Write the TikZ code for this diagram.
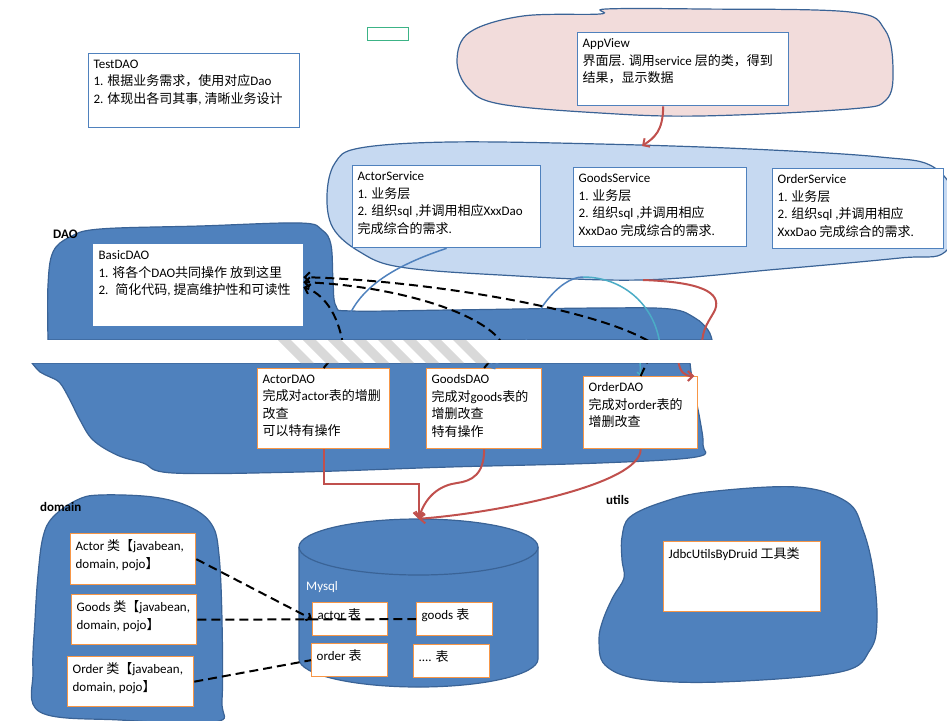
\documentclass[tikz,border=0pt]{standalone}
\usepackage{fontspec}
\setmainfont{Carlito}
\newfontfamily\zhfont{Noto Sans CJK SC}
\usetikzlibrary{arrows.meta}
\newcommand{\zh}[1]{{\zhfont #1}}
\newcommand{\cell}[3]{\parbox[c][#2][t]{#1}{#3}}
\definecolor{daoblue}{HTML}{4F81BD}
\definecolor{blobline}{HTML}{3A6396}
\definecolor{svcfill}{HTML}{C6D9F1}
\definecolor{viewfill}{HTML}{F2DCDB}
\definecolor{boxblue}{HTML}{4F81BD}
\definecolor{boxorange}{HTML}{F79646}
\definecolor{linkred}{HTML}{C0504D}
\definecolor{linkcyan}{HTML}{4BACC6}
\definecolor{markgreen}{HTML}{3CB386}
\definecolor{stripegray}{HTML}{D9D9D9}
\tikzset{
  cellbox/.style={draw, fill=white, line width=1.3pt, inner xsep=5pt, inner ysep=6pt,
    anchor=north west, font=\fontsize{13}{17.5}\selectfont},
  bluecell/.style={cellbox, draw=boxblue},
  orangecell/.style={cellbox, draw=boxorange},
  blob/.style={fill=daoblue, draw=blobline, line width=1.2pt},
  blobtag/.style={anchor=west, inner sep=0pt, font=\fontsize{13}{15}\selectfont\bfseries},
  redlink/.style={draw=linkred, line width=2pt, -{Straight Barb[length=5pt,width=10pt]}},
  bluelink/.style={draw=boxblue, line width=1.5pt, -{Straight Barb[length=3pt,width=7pt]}},
  cyanlink/.style={draw=linkcyan, line width=1.5pt, -{Straight Barb[length=3pt,width=7pt]}},
  daolink/.style={line width=2pt, dash pattern=on 9pt off 5pt, -{Straight Barb[length=5pt,width=10pt]}},
  beanlink/.style={line width=2pt, dash pattern=on 9pt off 5pt},
}
\begin{document}
\begin{tikzpicture}[x=1pt, y=1pt]
  \useasboundingbox (0,0) rectangle (947,-720);
  \clip (0,0) rectangle (947,-720);

  \node[draw=markgreen, line width=1.3pt, minimum width=41pt, minimum height=13pt,
    inner sep=0pt, anchor=north west] (mark) at (367,-27) {};

  \draw[fill=viewfill, draw=blobline, line width=1.2pt] plot[smooth cycle, tension=0.6] coordinates
    {(457,-60) (470,-32) (523,-16) (600,-14) (606,-9) (700,-9) (850,-12) (885,-30) (893,-70)
     (886,-100) (850,-109) (700,-116) (600,-113) (500,-104) (468,-88)};
  \node[bluecell] (appview) at (577,-32) {\cell{201pt}{61pt}{AppView\\\zh{界面层}. \zh{调用}service \zh{层的类，得到}\\\zh{结果，显示数据}}};

  \draw[fill=svcfill, draw=blobline, line width=1.2pt] plot[smooth cycle, tension=0.6] coordinates
    {(327,-195) (335,-163) (360,-148) (450,-142) (600,-144) (750,-149) (880,-157) (935,-168)
     (960,-210) (945,-252) (900,-258) (780,-269) (640,-280) (500,-275) (400,-267) (360,-252) (333,-228)};
  \node[bluecell] (actorsvc) at (352,-165) {\cell{178pt}{70pt}{ActorService\\1. \zh{业务层}\\2. \zh{组织}sql ,\zh{并调用相应}XxxDao\\\zh{完成综合的需求}.}};
  \node[bluecell] (goodssvc) at (573,-167) {\cell{163pt}{67pt}{GoodsService\\1. \zh{业务层}\\2. \zh{组织}sql ,\zh{并调用相应}\\XxxDao \zh{完成综合的需求}.}};
  \node[bluecell] (ordersvc) at (772,-168) {\cell{161pt}{68pt}{OrderService\\1. \zh{业务层}\\2. \zh{组织}sql ,\zh{并调用相应}\\XxxDao \zh{完成综合的需求}.}};

  \node[bluecell] (testdao) at (88,-53) {\cell{201pt}{62pt}{TestDAO\\1. \zh{根据业务需求，使用对应}Dao\\2. \zh{体现出各司其事}, \zh{清晰业务设计}}};

  \draw[blob] plot[smooth, tension=0.6] coordinates
    {(48,-340) (48,-285) (53,-252) (70,-237) (100,-229) (200,-226) (300,-223) (322,-230) (331,-245)
     (333,-280) (336,-306) (352,-311) (450,-310) (600,-308) (670,-309) (695,-318) (708,-330) (712,-340)} -- cycle;
  \draw[blob] plot[smooth, tension=0.6] coordinates
    {(690,-363) (693,-385) (700,-420) (703,-445) (696,-457) (600,-463) (450,-467) (300,-472) (173,-473)
     (143,-463) (117,-455) (93,-440) (80,-420) (70,-400) (60,-383) (50,-377) (40,-372) (32,-363)} -- cycle;
  \node[blobtag] (daotag) at (53,-234) {DAO};
  \node[cellbox, draw=white] (basicdao) at (93,-244) {\cell{199pt}{69pt}{BasicDAO\\1. \zh{将各个}DAO\zh{共同操作} \zh{放到这里}\\2. \ \zh{简化代码}, \zh{提高维护性和可读性}}};
  \node[orangecell] (actordao) at (257,-368) {\cell{122pt}{68pt}{ActorDAO\\\zh{完成对}actor\zh{表的增删}\\\zh{改查}\\\zh{可以特有操作}}};
  \node[orangecell] (goodsdao) at (426,-368) {\cell{105pt}{68pt}{GoodsDAO\\\zh{完成对}goods\zh{表的}\\\zh{增删改查}\\\zh{特有操作}}};
  \node[orangecell] (orderdao) at (583,-376) {\cell{104pt}{60pt}{OrderDAO\\\zh{完成对}order\zh{表的}\\\zh{增删改查}}};

  \draw[blob] plot[smooth cycle, tension=0.6] coordinates
    {(100,-495) (153,-497) (190,-507) (212,-525) (219,-555) (222,-620) (222,-700) (215,-722)
     (120,-720) (40,-712) (33,-670) (35,-620) (38,-575) (43,-537) (53,-517) (77,-500)};
  \node[blobtag] (domaintag) at (40,-507) {domain};
  \node[orangecell] (actorcls) at (70,-533) {\cell{115pt}{39pt}{Actor \zh{类【}javabean,\\domain, pojo\zh{】}}};
  \node[orangecell] (goodscls) at (71,-594) {\cell{115pt}{38pt}{Goods \zh{类【}javabean,\\domain, pojo\zh{】}}};
  \node[orangecell] (ordercls) at (67,-656) {\cell{116pt}{38pt}{Order \zh{类【}javabean,\\domain, pojo\zh{】}}};

  \node[minimum width=239pt, minimum height=168pt, inner sep=0pt] (mysql) at (418.5,-603) {};
  \fill[daoblue] (299,-547) -- (299,-659) arc[start angle=180, end angle=360, x radius=119.5, y radius=28]
    -- (538,-547) arc[start angle=0, end angle=180, x radius=119.5, y radius=28] -- cycle;
  \draw[blobline, line width=1.2pt] (299,-547) -- (299,-659)
    arc[start angle=180, end angle=360, x radius=119.5, y radius=28] -- (538,-547);
  \draw[blobline, line width=1.2pt] (418.5,-547) ellipse[x radius=119.5, y radius=28];
  \node[anchor=west, inner sep=0pt, text=white, font=\fontsize{13}{15}\selectfont] (dbname) at (306,-587) {Mysql};
  \node[orangecell] (actortab) at (312,-602) {\cell{65pt}{21pt}{actor \zh{表}}};
  \node[orangecell] (goodstab) at (416,-602) {\cell{66pt}{21pt}{goods \zh{表}}};
  \node[orangecell] (ordertab) at (311,-643) {\cell{66pt}{21pt}{order \zh{表}}};
  \node[orangecell] (moretab) at (413,-644) {\cell{66pt}{21pt}{.... \zh{表}}};

  \draw[blob] plot[smooth cycle, tension=0.6] coordinates
    {(630,-517) (663,-502) (707,-492) (797,-487) (847,-502) (863,-530) (873,-570) (877,-620) (870,-650)
     (840,-672) (720,-682) (640,-679) (605,-665) (599,-640) (603,-620) (613,-597) (624,-578) (622,-560) (622,-537)};
  \node[blobtag] (utilstag) at (606,-500) {utils};
  \node[orangecell] (druid) at (663,-541) {\cell{147pt}{58pt}{JdbcUtilsByDruid \zh{工具类}}};

  \coordinate (svcin) at (642,-146);
  \coordinate (arctop) at (583,-277);
  \coordinate (redtop) at (643,-280);

  \draw[redlink] ([xshift=-20pt]appview.south) .. controls +(0,-25) and +(12,8) .. (svcin);

  \draw[bluelink] (actorsvc.south) .. controls +(-60,-20) and +(3,50) .. (342,-345) -- (actordao.north);
  \draw[bluelink] (arctop) .. controls +(-25,0) and +(5,27) .. (525,-345) -- ([xshift=6pt]goodsdao.north);
  \draw[cyanlink] (arctop) .. controls +(40,0) and +(-5,40) .. (660,-345) -- (640,-360) -- (orderdao.north);
  \draw[redlink] (redtop) .. controls (700,-282) and (722,-292) .. (715,-310)
    .. controls (710,-320) and (702,-328) .. (702,-345) -- (678,-360)
    .. controls (680,-372) and (684,-376) .. ([xshift=-4pt]orderdao.north east);

  \draw[daolink] (actordao.north) -- (343,-345) .. controls (338,-312) and (322,-293) .. ([yshift=-2pt]basicdao.east);
  \draw[daolink] (goodsdao.north) -- (503,-345) .. controls (488,-315) and (400,-286) .. ([yshift=3pt]basicdao.east);
  \draw[daolink] (orderdao.north) -- (655,-345) .. controls (600,-308) and (420,-280) .. ([yshift=8pt]basicdao.east);

  \draw[redlink] (actordao.south) -- ++(0,-35) -| (mysql.north);
  \draw[redlink] (goodsdao.south) .. controls +(0,-25) and +(15,2) .. (457,-483)
    .. controls +(-15,-2) and +(8,25) .. (mysql.north);
  \draw[redlink] (orderdao.south) .. controls +(0,-35) and +(80,6) .. (mysql.north);

  \draw[beanlink, -{Straight Barb[length=4pt,width=8pt]}] (actorcls.east) -- (actortab.west);
  \draw[beanlink] (goodscls.east) -- (goodstab.west);
  \draw[beanlink] (ordercls.east) -- (ordertab.west);

  \fill[white] (0,-340) rectangle (947,-363);
  \foreach \x in {278,303,...,453}
    \fill[stripegray] (\x,-340) -- (\x+13,-340) -- (\x+36,-363) -- (\x+23,-363) -- cycle;
\end{tikzpicture}
\end{document}
